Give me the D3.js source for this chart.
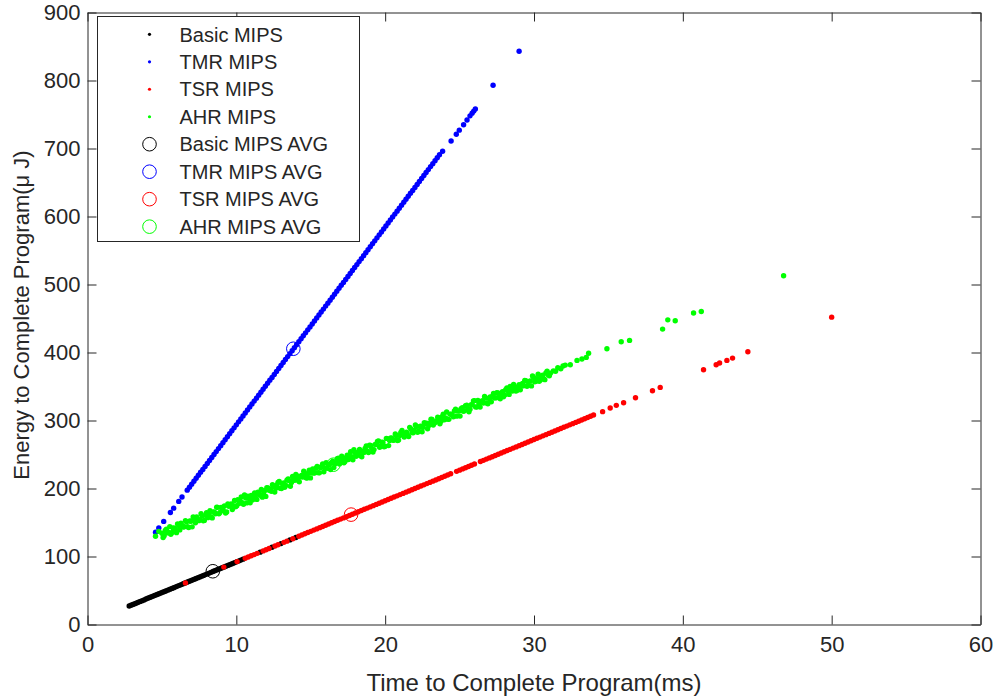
<!DOCTYPE html>
<html><head><meta charset="utf-8">
<script src="https://cdn.jsdelivr.net/npm/d3@7"></script>
<style>body{margin:0;background:#fff}svg{display:block}</style>
</head><body><svg id="chart" width="996" height="698"></svg>
<script>
const xTicks=[0,10,20,30,40,50,60];
const yTicks=[0,100,200,300,400,500,600,700,800,900];
const seriesNames=["Basic MIPS","TMR MIPS","TSR MIPS","AHR MIPS"];
const avgNames=["Basic MIPS AVG","TMR MIPS AVG","TSR MIPS AVG","AHR MIPS AVG"];
const seriesColors=["#000000","#0000ff","#ff0000","#00ff00"];

const basicMips=[[2.80,27.2],[2.92,28.3],[3.05,29.5],[3.18,30.6],[3.30,31.7],[3.42,32.8],[3.55,34.0],[3.68,35.1],[3.80,36.2],[3.93,37.4],[4.05,38.5],[4.18,39.6],[4.30,40.7],[4.43,41.9],[4.55,43.0],[4.68,44.1],[4.80,45.2],[4.93,46.4],[5.05,47.5],[5.18,48.6],[5.30,49.7],[5.43,50.9],[5.55,52.0],[5.68,53.1],[5.80,54.2],[5.93,55.4],[6.05,56.5],[6.18,57.6],[6.30,58.7],[6.43,59.9],[6.55,61.0],[6.68,62.1],[6.80,63.2],[6.93,64.4],[7.05,65.5],[7.18,66.6],[7.30,67.7],[7.43,68.9],[7.55,70.0],[7.68,71.1],[7.80,72.2],[7.93,73.4],[8.05,74.5],[8.18,75.6],[8.30,76.7],[8.43,77.9],[8.55,79.0],[8.68,80.1],[8.80,81.2],[8.93,82.4],[9.05,83.5],[9.18,84.6],[9.30,85.7],[9.43,86.9],[9.55,88.0],[9.68,89.1],[9.80,90.2],[9.93,91.4],[10.05,92.5],[10.18,93.6],[10.30,94.7],[10.45,96.1],[11.6,106.4],[12.4,113.6],[13.0,119.0],[13.6,124.4],[14.0,128.0]];

const tmrMips=[[4.57,135.6],[4.79,142.0],[5.12,151.6],[5.57,164.7],[5.79,171.1],[6.13,181.0],[6.35,187.4],
[6.70,197.6],[6.85,201.9],[7.00,206.3],[7.15,210.7],[7.30,215.0],[7.45,219.4],[7.60,223.8],[7.75,228.1],[7.90,232.5],[8.05,236.9],
[8.20,241.2],[8.35,245.6],[8.50,250.0],[8.65,254.3],[8.80,258.7],[8.95,263.0],[9.10,267.4],[9.25,271.8],[9.40,276.1],[9.55,280.5],
[9.70,284.9],[9.85,289.2],[10.00,293.6],[10.15,298.0],[10.30,302.3],[10.45,306.7],[10.60,311.1],[10.75,315.4],[10.90,319.8],[11.05,324.2],
[11.20,328.5],[11.35,332.9],[11.50,337.3],[11.65,341.6],[11.80,346.0],[11.95,350.3],[12.10,354.7],[12.25,359.1],[12.40,363.4],[12.55,367.8],
[12.70,372.2],[12.85,376.5],[13.00,380.9],[13.15,385.3],[13.30,389.6],[13.45,394.0],[13.60,398.4],[13.75,402.7],[13.90,407.1],[14.05,411.5],
[14.20,415.8],[14.35,420.2],[14.50,424.6],[14.65,428.9],[14.80,433.3],[14.95,437.6],[15.10,442.0],[15.25,446.4],[15.40,450.7],[15.55,455.1],
[15.70,459.5],[15.85,463.8],[16.00,468.2],[16.15,472.6],[16.30,476.9],[16.45,481.3],[16.60,485.7],[16.75,490.0],[16.90,494.4],[17.05,498.8],
[17.20,503.1],[17.35,507.5],[17.50,511.9],[17.65,516.2],[17.80,520.6],[17.95,524.9],[18.10,529.3],[18.25,533.7],[18.40,538.0],[18.55,542.4],
[18.70,546.8],[18.85,551.1],[19.00,555.5],[19.15,559.9],[19.30,564.2],[19.45,568.6],[19.60,573.0],[19.75,577.3],[19.90,581.7],[20.05,586.1],
[20.20,590.4],[20.35,594.8],[20.50,599.2],[20.65,603.5],[20.80,607.9],[20.95,612.2],[21.10,616.6],[21.25,621.0],[21.40,625.3],[21.55,629.7],
[21.70,634.1],[21.85,638.4],[22.00,642.8],[22.15,647.2],[22.30,651.5],[22.45,655.9],[22.60,660.3],[22.75,664.6],[22.90,669.0],[23.05,673.4],
[23.20,677.7],[23.35,682.1],[23.50,686.5],[23.65,690.8],
[23.86,696],[24.43,711],[24.78,721],[24.98,727],[25.27,735],[25.50,742],[25.70,748],[25.84,752],[25.95,755],[26.06,758],[27.25,793],[29.00,843]];

const tsrMips=[[6.58,61.2],[9.16,84.4],[10.05,92.5],
[10.6,97.4],[10.8,99.2],[11.0,101.0],[11.2,102.8],[11.4,104.6],[11.8,108.2],[12.0,110.0],[12.2,111.8],[12.6,115.4],[12.8,117.2],[13.2,120.8],[13.4,122.6],[13.8,126.2],
[14.2,129.8],[14.4,131.6],[14.6,133.4],[14.8,135.2],[15.0,137.0],[15.2,138.8],[15.4,140.6],[15.6,142.4],[15.8,144.2],[16.0,146.0],[16.2,147.8],[16.4,149.6],[16.6,151.4],[16.8,153.2],
[17.0,155.0],[17.2,156.8],[17.4,158.6],[17.6,160.4],[17.8,162.2],[18.0,164.0],[18.2,165.8],[18.4,167.6],[18.6,169.4],[18.8,171.2],[19.0,173.0],[19.2,174.8],[19.4,176.6],[19.6,178.4],[19.8,180.2],
[20.0,182.0],[20.2,183.8],[20.4,185.6],[20.6,187.4],[20.8,189.2],[21.0,191.0],[21.2,192.8],[21.4,194.6],[21.6,196.4],[21.8,198.2],[22.0,200.0],[22.2,201.8],[22.4,203.6],[22.6,205.4],[22.8,207.2],
[23.0,209.0],[23.2,210.8],[23.4,212.6],[23.6,214.4],[23.8,216.2],[24.0,218.0],[24.2,219.8],[24.4,221.6],[24.8,225.2],[25.0,227.0],[25.2,228.8],[25.4,230.6],[25.6,232.4],[25.8,234.2],
[26.0,236.0],[26.4,239.6],[26.6,241.4],[26.8,243.2],[27.0,245.0],[27.2,246.8],[27.4,248.6],[27.6,250.4],[27.8,252.2],[28.0,254.0],[28.2,255.8],[28.4,257.6],[28.6,259.4],[28.8,261.2],
[29.0,263.0],[29.2,264.8],[29.4,266.6],[29.6,268.4],[29.8,270.2],[30.0,272.0],[30.2,273.8],[30.4,275.6],[30.6,277.4],[30.8,279.2],[31.0,281.0],[31.2,282.8],[31.4,284.6],[31.6,286.4],[31.8,288.2],
[32.0,290.0],[32.2,291.8],[32.4,293.6],[32.6,295.4],[32.8,297.2],[33.0,299.0],[33.2,300.8],[33.4,302.6],[33.6,304.4],[33.8,306.2],[34.0,308.0],
[34.61,313],[35.12,318.4],[35.53,322.3],[36.02,326.2],[36.82,333.5],[37.96,343.8],[38.48,348.7],[41.39,374.7],[42.24,382],[42.47,384.5],[42.96,388.4],[43.34,391.8],[44.37,401],[50.0,452]];

const ahrMips=[[4.57,129.8],[4.79,137.0],
[5.00,134.3],[5.15,130.6],[5.30,140.0],[5.45,135.3],[5.60,132.7],[5.75,142.0],[5.90,140.4],[6.05,147.8],[6.20,139.1],[6.35,145.5],
[6.50,143.8],[6.65,151.2],[6.80,142.5],[6.95,151.9],[7.10,158.3],[7.25,149.6],[7.40,154.0],[7.55,154.3],[7.70,159.7],[7.85,153.1],
[8.00,164.4],[8.15,161.8],[8.30,158.1],[8.45,165.5],[8.60,162.8],[8.75,172.2],[8.90,164.6],[9.05,168.9],[9.20,174.3],[9.35,165.6],
[9.50,174.0],[9.65,177.3],[9.80,174.7],[9.95,173.1],[10.10,183.4],[10.25,181.8],[10.40,179.1],[10.55,190.5],[10.70,178.8],[10.85,185.2],
[11.00,189.6],[11.15,184.9],[11.30,190.3],[11.45,194.6],[11.60,190.0],[11.75,187.3],[11.90,196.7],[12.05,201.1],[12.20,197.4],[12.35,195.8],
[12.50,203.1],[12.65,200.5],[12.80,208.8],[12.95,200.2],[13.10,206.6],[13.25,201.9],[13.40,212.3],[13.55,211.6],[13.70,209.0],[13.85,212.4],
[14.00,220.7],[14.15,212.1],[14.30,217.4],[14.45,216.8],[14.60,222.1],[14.75,215.5],[14.90,226.9],[15.05,223.2],[15.20,222.6],[15.35,229.9],
[15.50,223.3],[15.65,230.6],[15.80,236.0],[15.95,230.4],[16.10,229.7],[16.25,235.1],[16.40,238.4],[16.55,230.8],[16.70,238.1],[16.85,244.5],
[17.00,238.9],[17.15,244.2],[17.30,239.6],[17.45,248.9],[17.60,247.3],[17.75,246.6],[17.90,257.0],[18.05,247.4],[18.20,253.7],[18.35,248.1],
[18.50,254.4],[18.65,258.8],[18.80,255.1],[18.95,263.5],[19.10,258.9],[19.25,257.2],[19.40,264.6],[19.55,269.9],[19.70,262.3],[19.85,267.6],
[20.00,262.0],[20.15,273.4],[20.30,270.7],[20.45,274.1],[20.60,271.4],[20.75,277.8],[20.90,271.2],[21.05,282.5],[21.20,279.9],[21.35,279.2],
[21.50,278.6],[21.65,289.9],[21.80,282.3],[21.95,285.7],[22.10,291.0],[22.25,284.4],[22.40,291.7],[22.55,290.1],[22.70,295.4],[22.85,287.8],
[23.00,296.2],[23.15,301.5],[23.30,295.9],[23.45,299.2],[23.60,303.6],[23.75,299.0],[23.90,309.3],[24.05,303.7],[24.20,302.0],[24.35,309.4],
[24.50,308.7],[24.65,314.1],[24.80,306.4],[24.95,313.8],[25.10,317.2],[25.25,313.5],[25.40,321.9],[25.55,317.2],[25.70,316.6],[25.85,323.0],
[26.00,329.3],[26.15,319.7],[26.30,325.0],[26.45,327.4],[26.60,325.7],[26.75,333.1],[26.90,324.5],[27.05,334.8],[27.20,335.2],[27.35,333.5],
[27.50,340.9],[27.65,334.2],[27.80,338.6],[27.95,334.9],[28.10,345.3],[28.25,343.7],[28.40,350.0],[28.55,343.4],[28.70,348.7],[28.85,344.1],
[29.00,352.5],[29.15,350.8],[29.30,351.2],[29.45,358.5],[29.60,351.9],[29.75,358.2],[29.90,365.6],[30.05,357.0],[30.20,361.3],[30.35,357.7],
[30.50,365.0],[30.65,361.4],[30.80,369.8],[30.95,367.1],[31.10,369.5],[31.30,373.0],[31.45,372.4],[31.60,377.5],[31.80,376.0],[31.95,380.2],
[32.10,381.5],[32.44,382.0],[32.89,388.4],[33.22,390.4],[33.51,392.8],[33.67,399.0],[34.90,405.5],[35.86,415.8],[36.42,417.8],
[38.64,434.4],[38.99,448.0],[39.49,446.7],[40.72,458.0],[41.24,460.4],[46.77,512.8],
[5.08,127.9],[5.23,138.3],[5.38,134.7],[5.53,144.0],[5.68,135.4],[5.83,141.7],[5.98,135.1],[6.13,145.5],[6.28,148.8],[6.43,143.2],
[6.58,152.5],[6.73,143.9],[6.88,152.2],[7.03,143.6],[7.18,153.0],[7.33,158.3],[7.48,152.7],[7.63,163.0],[7.78,152.4],[7.93,160.8],
[8.08,157.1],[8.23,167.5],[8.38,156.8],[8.53,165.2],[8.68,172.5],[8.83,162.9],[8.98,172.3],[9.13,167.6],[9.28,164.0],[9.43,177.3],
[9.58,175.7],[9.73,169.0],[9.88,182.4],[10.03,174.8],[10.18,178.1],[10.33,187.5],[10.48,176.8],[10.63,186.2],[10.78,188.5],[10.93,178.9],
[11.08,183.2],[11.23,193.6],[11.38,184.0],[11.53,193.3],[11.68,198.7],[11.83,192.0],[11.98,188.4],[12.13,200.8],[12.28,199.1],[12.43,205.5],
[12.58,194.8],[12.73,205.2],[12.88,210.5],[13.03,199.9],[13.18,208.3],[13.33,204.6],[13.48,214.0],[13.63,203.3],[13.78,217.7],[13.93,212.1],
[14.08,218.4],[14.23,209.8],[14.38,219.1],[14.53,225.5],[14.68,215.8],[14.83,222.2],[14.98,215.6],[15.13,228.9],[15.28,223.3],[15.43,232.6],
[15.58,223.0],[15.73,232.3],[15.88,224.7],[16.03,238.1],[16.18,235.4],[16.33,227.8],[16.48,240.1],[16.63,236.5],[16.78,243.8],[16.93,236.2],
[17.08,247.5],[17.23,237.9],[17.38,245.3],[17.53,242.6],[17.68,254.0],[17.83,242.3],[17.98,252.7],[18.13,249.1],[18.28,257.4],[18.43,246.8],
[18.58,253.1],[18.73,262.5],[18.88,252.8],[19.03,263.2],[19.18,253.6],[19.33,264.9],[19.48,269.3],[19.63,260.6],[19.78,268.0],[19.93,261.3],
[20.08,273.7],[20.23,263.1],[20.38,274.4],[20.53,270.8],[20.68,280.1],[20.83,270.5],[20.98,277.9],[21.13,285.2],[21.28,275.6],[21.43,282.9],
[21.58,276.3],[21.73,287.6],[21.88,282.0],[22.03,293.4],[22.18,282.7],[22.33,291.1],[22.48,283.4],[22.63,296.8],[22.78,296.1],[22.93,292.5],
[23.08,301.8],[23.23,293.2],[23.38,297.6],[23.53,304.9],[23.68,295.3],[23.83,305.6],[23.98,301.0],[24.13,312.4],[24.28,301.7],[24.43,309.1],
[24.58,305.4],[24.73,316.8],[24.88,314.1],[25.03,306.5],[25.18,318.9],[25.33,314.2],[25.48,322.6],[25.63,312.9],[25.78,323.3],[25.93,328.7],
[26.08,320.0],[26.23,329.4],[26.38,319.7],[26.53,329.1],[26.68,335.4],[26.83,325.8],[26.98,332.2],[27.13,327.5],[27.28,339.9],[27.43,333.2],
[27.58,340.6],[27.73,331.9],[27.88,342.3],[28.03,337.6],[28.18,348.0],[28.33,338.4],[28.48,346.7],[28.63,353.1],[28.78,343.4],[28.93,349.8],
[29.08,345.1],[29.23,354.5],[29.38,358.9],[29.53,350.2],[29.68,357.6],[29.83,350.9],[29.98,363.3],[30.13,357.7],[30.28,368.0],[30.43,359.4],
[30.58,366.7],[30.73,360.1],[30.88,372.4],[31.03,365.8]];

const avgTime=[8.42,13.83,17.71,16.52];
const avgEnergy=[78.3,405.5,161.6,235.0];

const font='"Liberation Sans", Arial, Helvetica, sans-serif';
const axisColor="#262626";
const svg=d3.select("#chart");
const x=d3.scaleLinear().domain([0,60]).range([87.5,980.5]);
const y=d3.scaleLinear().domain([0,900]).range([624.5,12.5]);

svg.append("rect").attr("width",996).attr("height",698).attr("fill","#fff");

const seriesData=[basicMips,tmrMips,tsrMips,ahrMips];
seriesData.forEach((pts,i)=>{
  svg.append("g").selectAll("circle").data(pts).join("circle")
    .attr("cx",d=>x(d[0])).attr("cy",d=>y(d[1])).attr("r",2.7)
    .attr("fill",seriesColors[i]);
});
svg.append("g").selectAll("circle").data(avgTime).join("circle")
  .attr("cx",d=>x(d)).attr("cy",(d,i)=>y(avgEnergy[i])).attr("r",6.8)
  .attr("fill","none").attr("stroke",(d,i)=>seriesColors[i]).attr("stroke-width",1);

function styleAxis(g){
  g.select(".domain").attr("stroke",axisColor).attr("stroke-width",1);
  g.selectAll(".tick line").attr("stroke",axisColor).attr("stroke-width",1);
  g.selectAll(".tick text").attr("fill",axisColor).attr("font-size",22).attr("font-family",font);
}
svg.append("g").attr("transform",`translate(0,${y(0)})`)
  .call(d3.axisBottom(x).tickValues(xTicks).tickSize(-9).tickSizeOuter(0).tickPadding(12)).call(styleAxis);
svg.append("g").attr("transform",`translate(0,${y(900)})`)
  .call(d3.axisTop(x).tickValues(xTicks).tickSize(-9).tickSizeOuter(0).tickFormat("")).call(styleAxis);
svg.append("g").attr("transform",`translate(${x(0)},0)`)
  .call(d3.axisLeft(y).tickValues(yTicks).tickSize(-9).tickSizeOuter(0).tickPadding(7)).call(styleAxis);
svg.append("g").attr("transform",`translate(${x(60)},0)`)
  .call(d3.axisRight(y).tickValues(yTicks).tickSize(-9).tickSizeOuter(0).tickFormat("")).call(styleAxis);

svg.append("text").attr("x",(x(0)+x(60))/2).attr("y",691)
  .attr("text-anchor","middle").attr("font-family",font).attr("font-size",24).attr("fill",axisColor)
  .text("Time to Complete Program(ms)");
const yl=svg.append("text").attr("transform","translate(28.5,315) rotate(-90)")
  .attr("text-anchor","middle").attr("font-family",font).attr("font-size",22).attr("fill",axisColor);
yl.append("tspan").text("Energy to Complete Program(");
yl.append("tspan").text("\u03bc");
yl.append("tspan").text(" J)");

const lg=svg.append("g");
lg.append("rect").attr("x",97.5).attr("y",16.5).attr("width",262).attr("height",225)
  .attr("fill","#fff").attr("stroke",axisColor).attr("stroke-width",1);
const legendRows=seriesNames.map((n,i)=>({name:n,color:seriesColors[i],type:"dot"}))
  .concat(avgNames.map((n,i)=>({name:n,color:seriesColors[i],type:"ring"})));
legendRows.forEach((r,i)=>{
  const cy=34.3+27.48*i;
  if(r.type==="dot"){
    lg.append("circle").attr("cx",149.5).attr("cy",cy).attr("r",1.6).attr("fill",r.color);
  } else {
    lg.append("circle").attr("cx",149.5).attr("cy",cy).attr("r",6.8).attr("fill","none")
      .attr("stroke",r.color).attr("stroke-width",1);
  }
  lg.append("text").attr("x",179.5).attr("y",cy).attr("dy","0.36em")
    .attr("font-family",font).attr("font-size",20).attr("fill",axisColor).text(r.name);
});
</script>
</body></html>
